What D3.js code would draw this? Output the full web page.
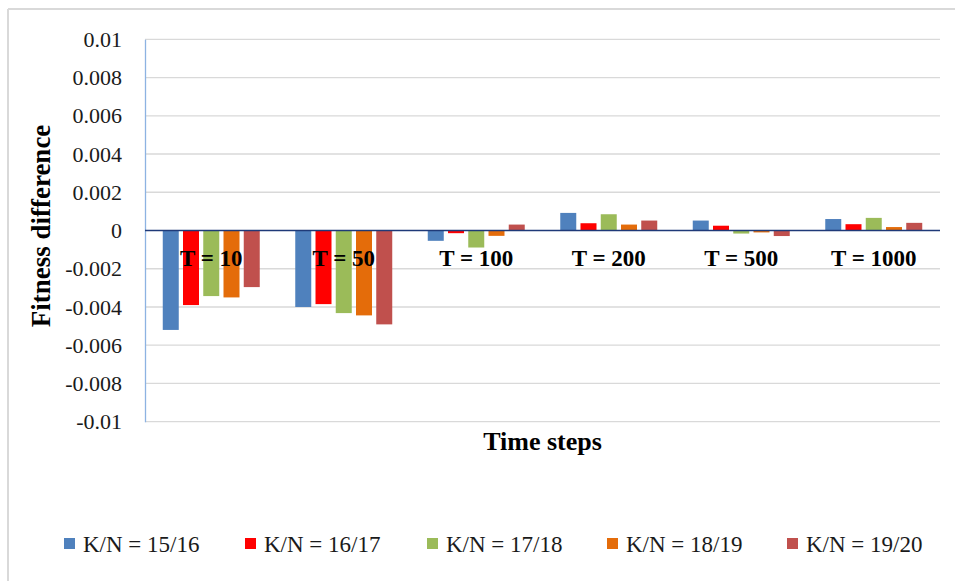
<!DOCTYPE html>
<html>
<head>
<meta charset="utf-8">
<script src="https://cdn.jsdelivr.net/npm/d3@7"></script>
<style>
  html, body { margin: 0; padding: 0; background: #fff; }
  svg, svg text { font-family: "Liberation Serif", "Times New Roman", serif; }
  svg { display: block; }
</style>
</head>
<body>
<svg id="chart" width="955" height="581"></svg>
<script>
const categories = ["T = 10", "T = 50", "T = 100", "T = 200", "T = 500", "T = 1000"];
const seriesNames = ["K/N = 15/16", "K/N = 16/17", "K/N = 17/18", "K/N = 18/19", "K/N = 19/20"];
const seriesColors = ["#4f81bd", "#ff0000", "#9bbb59", "#e46c0a", "#c0504d"];
const s1516 = [-0.0052, -0.0040, -0.00054, 0.00092, 0.00052, 0.00060];
const s1617 = [-0.0039, -0.00385, -0.00014, 0.00038, 0.00025, 0.00033];
const s1718 = [-0.00343, -0.00432, -0.00089, 0.00085, -0.00016, 0.00066];
const s1819 = [-0.0035, -0.00444, -0.00028, 0.00031, -0.00010, 0.00018];
const s1920 = [-0.00296, -0.00491, 0.00031, 0.00052, -0.00029, 0.00040];
const yTicks = [0.01, 0.008, 0.006, 0.004, 0.002, 0, -0.002, -0.004, -0.006, -0.008, -0.01];
const yTickLabels = ["0.01", "0.008", "0.006", "0.004", "0.002", "0", "-0.002", "-0.004", "-0.006", "-0.008", "-0.01"];

const seriesValues = [s1516, s1617, s1718, s1819, s1920];

const svg = d3.select("#chart");
const plot = { left: 145, right: 940, top: 39.3, bottom: 421.7 };

// outer frame (top and left edges visible)
svg.append("line").attr("x1", 8).attr("x2", 955).attr("y1", 9).attr("y2", 9)
  .attr("stroke", "#d9d9d9").attr("stroke-width", 2);
svg.append("line").attr("x1", 8).attr("x2", 8).attr("y1", 9).attr("y2", 581)
  .attr("stroke", "#d9d9d9").attr("stroke-width", 2);

const y = d3.scaleLinear().domain([-0.01, 0.01]).range([plot.bottom, plot.top]);
const x0 = d3.scaleBand().domain(categories).range([plot.left, plot.right]).paddingInner(0).paddingOuter(0);
const x1 = d3.scaleBand().domain(seriesNames).range([0, x0.bandwidth()]).paddingInner(0.21).paddingOuter(0.877);

// gridlines
svg.append("g").selectAll("line").data(yTicks.filter(v => v !== 0)).join("line")
  .attr("x1", plot.left).attr("x2", plot.right)
  .attr("y1", d => y(d)).attr("y2", d => y(d))
  .attr("stroke", "#d9d9d9").attr("stroke-width", 1.3);

// y axis with labels
const yAxis = d3.axisLeft(y).tickValues(yTicks)
  .tickFormat((d, i) => yTickLabels[i]).tickSize(0).tickPadding(23);
const gy = svg.append("g").attr("transform", `translate(${plot.left},0)`).call(yAxis);
gy.attr("font-family", null);
gy.select(".domain").attr("stroke", "#8db3e2").attr("stroke-width", 1.3);
gy.selectAll("text").attr("font-size", 22).attr("fill", "#1a1a1a")
  .style("font-family", "'Liberation Serif', 'Times New Roman', serif");

// bars
const rows = categories.map((c, i) => ({ cat: c, vals: seriesNames.map((s, j) => ({ s, j, v: seriesValues[j][i] })) }));
svg.append("g").selectAll("g").data(rows).join("g")
  .attr("transform", d => `translate(${x0(d.cat)},0)`)
  .selectAll("rect").data(d => d.vals).join("rect")
  .attr("x", d => x1(d.s))
  .attr("width", x1.bandwidth())
  .attr("y", d => Math.min(y(d.v), y(0)))
  .attr("height", d => Math.abs(y(d.v) - y(0)))
  .attr("fill", d => seriesColors[d.j]);

// zero line
svg.append("line").attr("x1", plot.left).attr("x2", plot.right)
  .attr("y1", y(0)).attr("y2", y(0))
  .attr("stroke", "#1f3a78").attr("stroke-width", 1.5);

// category labels
svg.append("g").selectAll("text").data(categories).join("text")
  .attr("x", d => x0(d) + x0.bandwidth() / 2)
  .attr("y", 266)
  .attr("text-anchor", "middle")
  .attr("font-size", 23).attr("font-weight", "bold").attr("fill", "#000")
  .text(d => d);

// axis titles
svg.append("text").attr("x", (plot.left + plot.right) / 2).attr("y", 450)
  .attr("text-anchor", "middle").attr("font-size", 26).attr("font-weight", "bold")
  .text("Time steps");
svg.append("text").attr("transform", "translate(50,226) rotate(-90)")
  .attr("text-anchor", "middle").attr("font-size", 27).attr("font-weight", "bold")
  .text("Fitness difference");

// legend
const legendX = [64, 245, 427, 607, 787];
const lg = svg.append("g").selectAll("g").data(seriesNames).join("g")
  .attr("transform", (d, i) => `translate(${legendX[i]},538)`);
lg.append("rect").attr("width", 11).attr("height", 11).attr("fill", (d, i) => seriesColors[i]);
lg.append("text").attr("x", 19).attr("y", 14).attr("font-size", 23).attr("fill", "#1a1a1a")
  .text(d => d);
</script>
</body>
</html>
